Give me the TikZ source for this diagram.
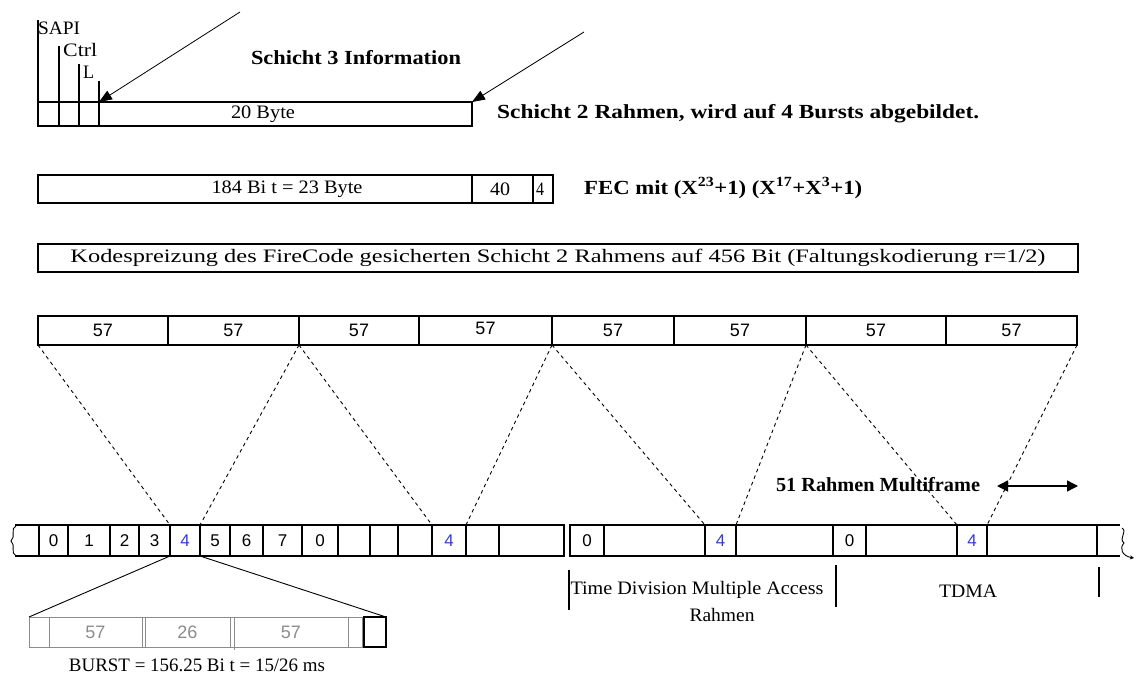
\documentclass[tikz,border=0pt]{standalone}
\usepackage{fontspec}
\usepackage{graphicx}
\setmainfont{Liberation Serif}
\newfontfamily\sansf{Liberation Sans}
\usetikzlibrary{arrows.meta}
\definecolor{bblue}{RGB}{55,55,225}
\definecolor{bgray}{RGB}{140,140,140}
\newcommand{\fitw}[2]{\resizebox{#1pt}{\height}{#2}}
\newcommand{\mkcell}[6][]{\node[cellst,#1,minimum width={(#4)-(#3)},minimum height={(#6)-(#5)},anchor=north west] (#2) at (#3,#5) {};}
\begin{document}
\begin{tikzpicture}[x=1pt,y=-1pt,
  cellst/.style={draw,line width=1.1pt,inner sep=0pt,outer sep=0pt},
  graycell/.style={draw=bgray,line width=1pt},
  lbl/.style={inner sep=0pt,font=\fontsize{19}{19}\selectfont},
  blbl/.style={inner sep=0pt,font=\fontsize{20}{20}\selectfont\bfseries},
  dig/.style={inner sep=0pt,font=\fontsize{18}{18}\sansf},
  sdig/.style={inner sep=0pt,font=\fontsize{17}{17}\sansf},
  bdig/.style={sdig,text=bblue},
  gdig/.style={dig,text=bgray},
  dsh/.style={line width=0.9pt,dash pattern=on 3.5pt off 3.5pt},
  arr/.style={line width=0.8pt,-{Triangle[length=13pt,width=10pt]}},
  darr/.style={line width=1.4pt,{Triangle[length=11pt,width=11pt]}-{Triangle[length=11pt,width=11pt]}},
  thin/.style={line width=1.1pt}
]
\useasboundingbox (0,0) rectangle (1136,677);

% ---------- Layer 2 frame ----------
\mkcell{sapi}{38}{59}{102}{126}
\mkcell{ctrl}{59}{79}{102}{126}
\mkcell{lc}{79}{99}{102}{126}
\mkcell{info}{99}{472}{102}{126}
\coordinate (sapitop) at (38,20);
\coordinate (ctrltop) at (59,46);
\coordinate (ltop) at (79,64);
\coordinate (infotop) at (99,81);
\draw[thin] (sapi.north west) -- (sapitop);
\draw[thin] (ctrl.north west) -- (ctrltop);
\draw[thin] (lc.north west) -- (ltop);
\draw[thin] (info.north west) -- (infotop);
\node[lbl,anchor=west] (tsapi) at (38,28) {\fitw{42}{SAPI}};
\node[lbl,anchor=west] (tctrl) at (63,50) {\fitw{34}{Ctrl}};
\node[lbl,anchor=west] (tl) at (83,72) {\fitw{11}{L}};
\node[lbl] (t20) at (263,114) {\fitw{64}{20 Byte}};
\node[blbl] (ts3) at (356,58) {\fitw{210}{Schicht 3 Information}};
\coordinate (a1) at (240,12);
\coordinate (a2) at (584,32);
\draw[arr] (a1) -- (info.north west);
\draw[arr] (a2) -- (info.north east);
\node[blbl,anchor=west] (ts2) at (497,114) {\fitw{482}{Schicht 2 Rahmen, wird auf 4 Bursts abgebildet.}};

% ---------- FEC row ----------
\mkcell{f1}{38}{472}{175}{203}
\mkcell{f2}{472}{533}{175}{203}
\mkcell{f3}{533}{553}{175}{203}
\node[lbl] (tf1) at (287,189) {\fitw{151}{184 Bi t = 23 Byte}};
\node[lbl] (tf2) at (500,189) {\fitw{20}{40}};
\node[lbl] (tf3) at (540,189) {\fitw{8}{4}};
\node[blbl,anchor=west] (tfec) at (584,188) {\fitw{278}{FEC mit (X\textsuperscript{23}+1) (X\textsuperscript{17}+X\textsuperscript{3}+1)}};

% ---------- Kodespreizung ----------
\mkcell{kode}{38}{1078}{244}{272}
\node[lbl] (tkode) at (558,258) {\fitw{975}{Kodespreizung des FireCode gesicherten Schicht 2 Rahmens auf 456 Bit (Faltungskodierung r=1/2)}};

% ---------- 8 x 57 ----------
\mkcell{s1}{38}{168}{316}{345}
\mkcell{s2}{168}{299}{316}{345}
\mkcell{s3}{299}{419}{316}{345}
\mkcell{s4}{419}{552}{316}{345}
\mkcell{s5}{552}{674}{316}{345}
\mkcell{s6}{674}{806}{316}{345}
\mkcell{s7}{806}{946}{316}{345}
\mkcell{s8}{946}{1077}{316}{345}
\foreach \n in {s1,s2,s3,s5,s6,s7,s8} {\node[dig] at (\n.center) {57};}
\node[dig] at ([yshift=2pt]s4.center) {57};

% ---------- TDMA frames ----------
\foreach \nm/\a/\b in {c1/39/68,c2/68/110,c3/110/139,c4/139/170,c5/170/200,c6/200/230,c7/230/263,c8/263/302,c9/302/338,c10/338/370,c11/370/398,c12/398/432,c13/432/466,c14/466/499,c15/499/564,
  d1/570/604,d2/604/705,d3/705/736,d4/736/833,
  e1/833/866,e2/866/957,e3/957/987,e4/987/1097}
  {\mkcell{\nm}{\a}{\b}{525}{556}}
\node[sdig] at (c1.center) {0};
\node[sdig] at (c2.center) {1};
\node[sdig] at (c3.center) {2};
\node[sdig] at (c4.center) {3};
\node[bdig] at (c5.center) {4};
\node[sdig] at (c6.center) {5};
\node[sdig] at (c7.center) {6};
\node[sdig] at (c8.center) {7};
\node[sdig] at (c9.center) {0};
\node[bdig] at (c13.center) {4};
\node[sdig] at (d1.center) {0};
\node[bdig] at (d3.center) {4};
\node[sdig] at (e1.center) {0};
\node[bdig] at (e3.center) {4};
\draw[line width=2.2pt] (d4.north east) -- (d4.south east);
\coordinate (lt) at (15,525);
\coordinate (lb) at (15,556);
\coordinate (rt) at (1120,525);
\coordinate (rb) at (1120,556);
\draw[thin] (lt) -- (c1.north west);
\draw[thin] (lb) -- (c1.south west);
\draw[thin] (e4.north east) -- (rt);
\draw[thin] (e4.south east) -- (rb);
\draw[line width=0.9pt] (16,526) .. controls (10,528) and (16,537) .. (11,541) .. controls (16,545) and (10,553) .. (16,556);
\draw[line width=0.9pt,-{Stealth[length=4pt,width=4pt]}] (1122,528) .. controls (1128,532) and (1118,538) .. (1124,543) .. controls (1119,548) and (1122,556) .. (1134,558);

% ---------- dashed mapping ----------
\draw[dsh] (s1.south west) -- (c5.north west);
\draw[dsh] (s3.south west) -- (c5.north east);
\draw[dsh] (s3.south west) -- (c13.north west);
\draw[dsh] (s5.south west) -- (c13.north east);
\draw[dsh] (s5.south west) -- (d3.north west);
\draw[dsh] (s7.south west) -- (d3.north east);
\draw[dsh] (s7.south west) -- (e3.north west);
\draw[dsh] (s8.south east) -- (e3.north east);

% ---------- multiframe ----------
\node[blbl] (tmf) at (878,485) {\fitw{204}{51 Rahmen Multiframe}};
\coordinate (mfl) at (997,486);
\coordinate (mfr) at (1078,486);
\draw[darr] (mfl) -- (mfr);

% ---------- frame labels ----------
\coordinate (v1t) at (569,570); \coordinate (v1b) at (569,610);
\coordinate (v2t) at (836,565); \coordinate (v2b) at (836,607);
\coordinate (v3t) at (1099,567); \coordinate (v3b) at (1099,597);
\draw[thin] (v1t) -- (v1b);
\draw[thin] (v2t) -- (v2b);
\draw[thin] (v3t) -- (v3b);
\node[lbl] (ttdm) at (697,590) {\fitw{253}{Time Division Multiple Access}};
\node[lbl] (trah) at (722,615) {\fitw{65}{Rahmen}};
\node[lbl] (ttdma) at (968,591) {\fitw{58}{TDMA}};

% ---------- burst ----------
\mkcell[graycell]{b1}{29}{49}{617}{647}
\mkcell[graycell]{b2}{49}{142}{617}{647}
\mkcell[graycell]{b3}{145}{230}{617}{647}
\mkcell[graycell]{b4}{234}{348}{617}{647}
\mkcell[graycell]{b5}{348}{362}{617}{647}
\draw[draw=bgray,line width=1pt] (b1.north west) rectangle (b5.south east);
\coordinate (b4ext) at (234,650);
\draw[draw=bgray,line width=1pt] (b4.south west) -- (b4ext);
\mkcell{bk}{364}{386}{617}{647}
\node[gdig] at (b2.center) {57};
\node[gdig] at (b3.center) {26};
\node[gdig] at (b4.center) {57};
\draw[line width=0.9pt] (c5.south west) -- (b1.north west);
\draw[line width=0.9pt] (c5.south east) -- (bk.north east);
\node[lbl] (tburst) at (197,665) {\fitw{256}{BURST = 156.25 Bi t = 15/26 ms}};
\end{tikzpicture}
\end{document}
